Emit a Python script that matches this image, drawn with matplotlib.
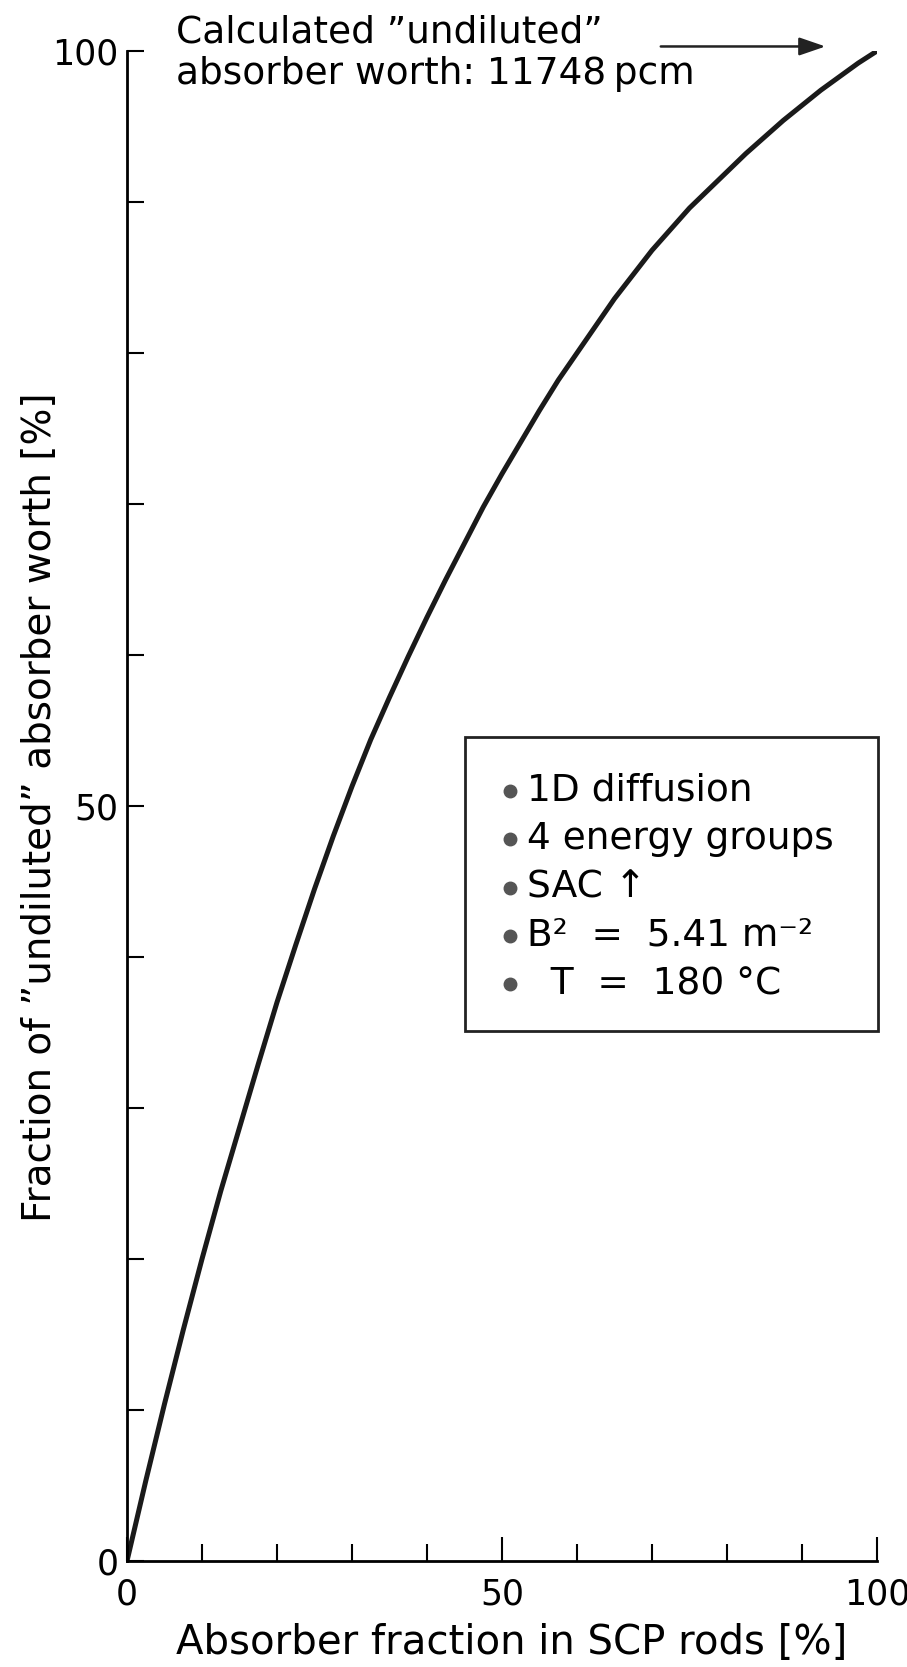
import matplotlib
matplotlib.use("Agg")
import matplotlib.pyplot as plt
from matplotlib.ticker import MultipleLocator, FixedLocator

plt.rcParams['font.family'] = ['DejaVu Sans']

# curve
absorber_fraction = [0, 2.5, 5, 7.5, 10, 12.5, 15, 17.5, 20, 22.5, 25, 27.5, 30, 32.5, 35, 37.5, 40,
                     42.5, 45, 47.5, 50, 52.5, 55, 57.5, 60, 62.5, 65, 67.5, 70, 72.5, 75, 77.5, 80,
                     82.5, 85, 87.5, 90, 92.5, 95, 97.5, 100]
worth_fraction = [0, 5.3, 10.4, 15.3, 20.0, 24.5, 28.7, 32.9, 37.0, 40.8, 44.5, 48.0, 51.3, 54.4, 57.2, 59.9, 62.5,
                  65.0, 67.4, 69.8, 72.0, 74.1, 76.2, 78.2, 80.0, 81.8, 83.6, 85.2, 86.8, 88.2, 89.6, 90.8, 92.0,
                  93.2, 94.3, 95.4, 96.4, 97.4, 98.3, 99.2, 100]

x_ticklabels = ["0", "50", "100"]
y_ticklabels = ["0", "50", "100"]

legend_items = ["1D diffusion", "4 energy groups", "SAC \u2191", "B\u00b2  =  5.41 m\u207b\u00b2", "  T  =  180 \u00b0C"]

FS = 27

fig = plt.figure(figsize=(9.07, 16.67), dpi=100)
ax = fig.add_axes([127/907, 1 - 1561/1667, 750/907, 1510/1667])

ax.plot(absorber_fraction, worth_fraction, color='#1a1a1a', lw=3.6, solid_capstyle='round')

ax.set_xlim(0, 100)
ax.set_ylim(0, 100)
for s in ['top', 'right']:
    ax.spines[s].set_visible(False)
for s in ['left', 'bottom']:
    ax.spines[s].set_linewidth(2)

ax.xaxis.set_major_locator(FixedLocator([0, 50, 100]))
ax.xaxis.set_minor_locator(MultipleLocator(10))
ax.yaxis.set_major_locator(FixedLocator([0, 50, 100]))
ax.yaxis.set_minor_locator(MultipleLocator(10))
ax.set_xticklabels(x_ticklabels)
ax.set_yticklabels(y_ticklabels)
ax.tick_params(axis='x', which='major', direction='in', length=17, width=1.5, pad=12, labelsize=25)
ax.tick_params(axis='x', which='minor', direction='in', length=12, width=1.5)
ax.tick_params(axis='y', which='both', direction='in', length=12, width=1.5, pad=6, labelsize=25)

# axis titles placed where the reference has them
ax.text(0.513, -0.0543, "Absorber fraction in SCP rods [%]", fontsize=29,
        transform=ax.transAxes, ha='center', va='center')
ax.text(-0.116, 0.499, "Fraction of \u201dundiluted\u201d absorber worth [%]", fontsize=28,
        transform=ax.transAxes, ha='center', va='center', rotation=90)

# top annotation
ax.text(6.5, 101.2, "Calculated \u201dundiluted\u201d", fontsize=FS, va='center', ha='left', clip_on=False)
ax.text(6.5, 98.5, "absorber worth: 11748\u2009pcm", fontsize=FS, va='center', ha='left', clip_on=False)
ax.annotate("", xy=(93.5, 100.3), xytext=(70.8, 100.3), annotation_clip=False,
            arrowprops=dict(arrowstyle='-|>,head_length=1.6,head_width=0.55', color='#222222', lw=1.8))

# info box
box = plt.Rectangle((45.1, 35.1), 55.0, 19.5, fill=False, lw=2, ec='#222222', clip_on=False)
ax.add_patch(box)
item_y = [51.0, 47.8, 44.6, 41.4, 38.2]
for yy, txt in zip(item_y, legend_items):
    ax.plot(51.0, yy, 'o', ms=9, color='#555555', clip_on=False)
    ax.text(53.3, yy, txt, fontsize=FS, va='center', ha='left')

fig.savefig("out.png", dpi=100)
